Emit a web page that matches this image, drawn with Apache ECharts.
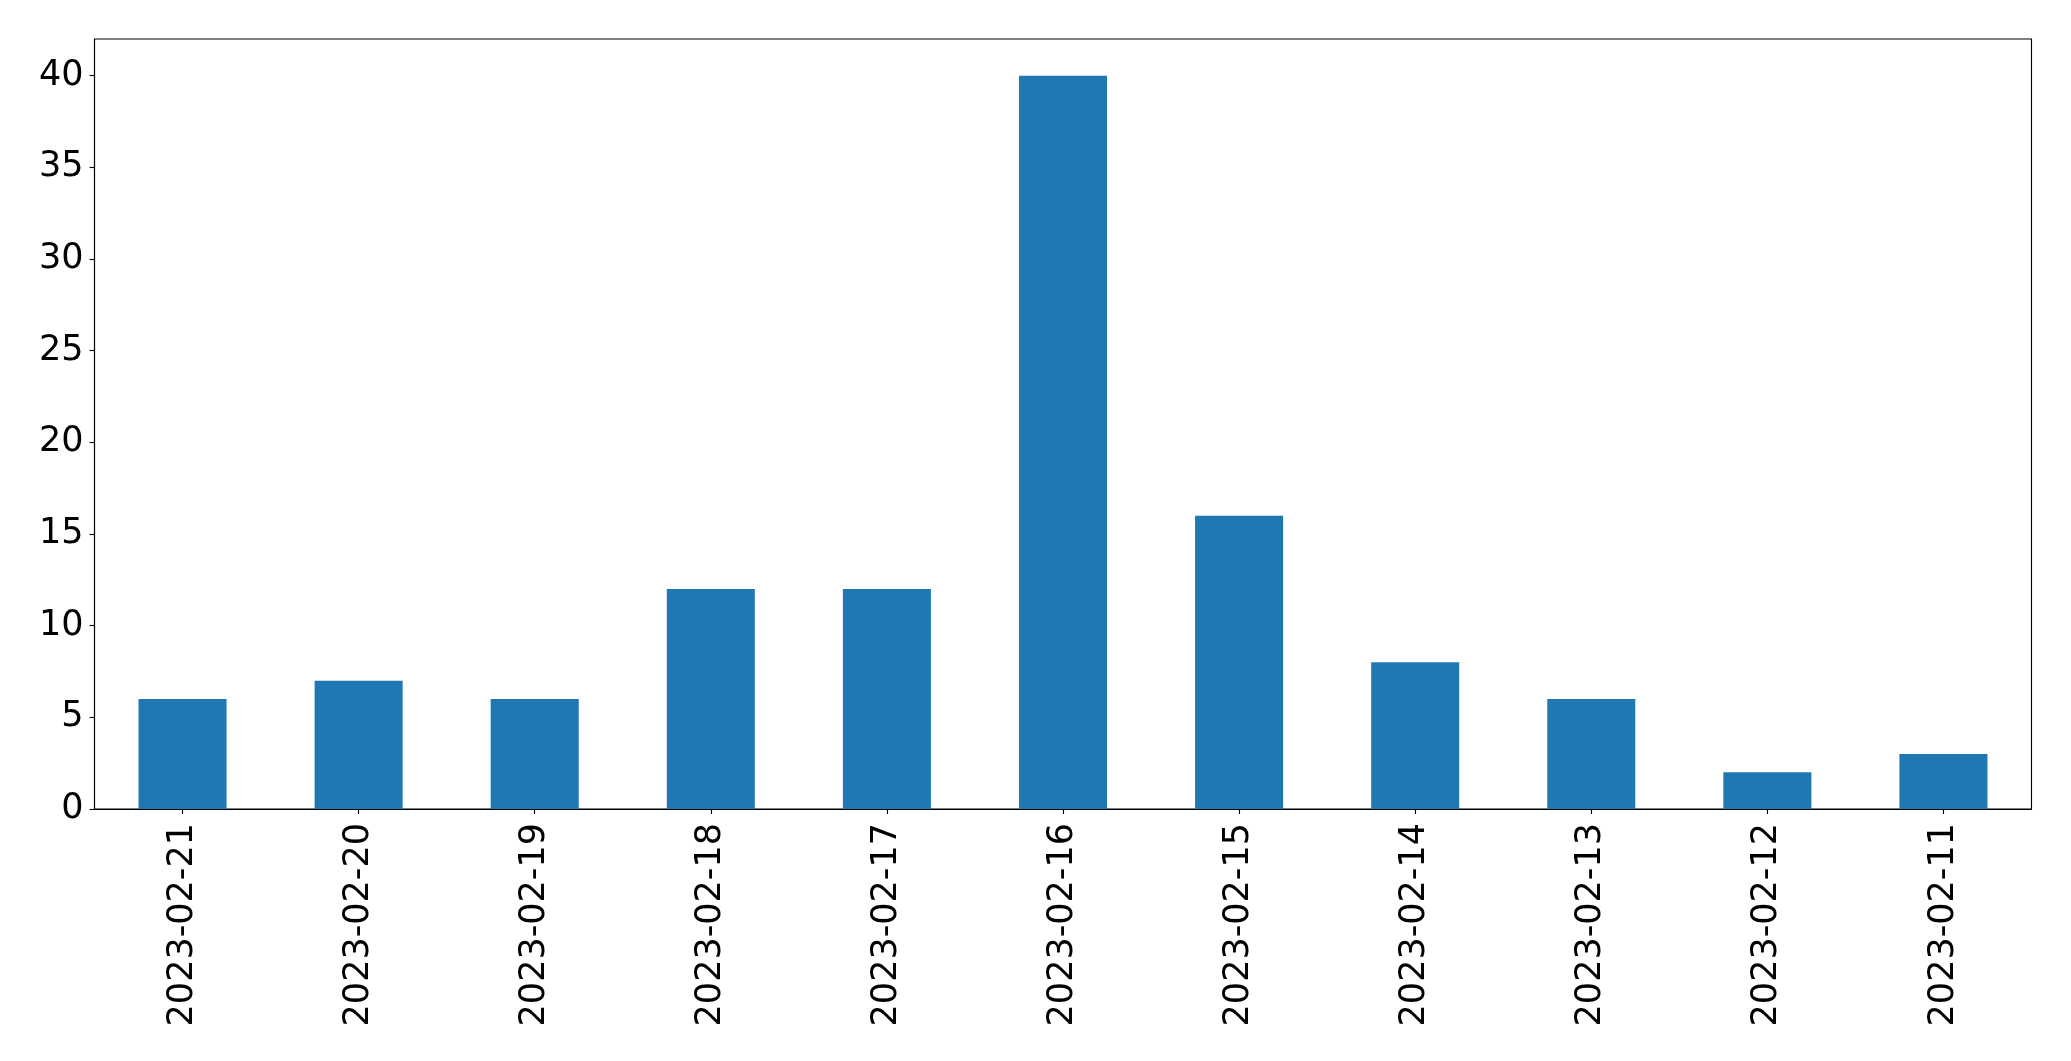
<!DOCTYPE html>
<html>
<head>
<meta charset="utf-8">
<script src="https://cdn.jsdelivr.net/npm/echarts@6/dist/echarts.min.js"></script>
<style>
html,body{margin:0;padding:0;background:#fff;}
#chart{width:2071px;height:1061px;}
</style>
</head>
<body>
<div id="chart"></div>
<script>
const categories = ["2023-02-21","2023-02-20","2023-02-19","2023-02-18","2023-02-17","2023-02-16","2023-02-15","2023-02-14","2023-02-13","2023-02-12","2023-02-11"];
const counts = [6,7,6,12,12,40,16,8,6,2,3];
const yTicks = [0,5,10,15,20,25,30,35,40];

const chart = echarts.init(document.getElementById('chart'), null, {renderer:'canvas'});
const font = '"DejaVu Sans", sans-serif';
chart.setOption({
  animation:false,
  backgroundColor:'#ffffff',
  grid:{left:94.5,right:39.5,top:39,bottom:252,show:true,borderColor:'#000',borderWidth:1.1,backgroundColor:'transparent'},
  xAxis:{
    type:'category',
    data:categories,
    boundaryGap:true,
    axisLine:{show:true,lineStyle:{color:'#000',width:1.1}},
    axisTick:{show:true,alignWithLabel:true,length:5,lineStyle:{color:'#000',width:1.1}},
    axisLabel:{rotate:90,fontSize:35,color:'#000',fontFamily:font,margin:14,interval:0},
    splitLine:{show:false}
  },
  yAxis:{
    type:'value',
    min:0,max:42,interval:5,
    axisLine:{show:true,lineStyle:{color:'#000',width:1.1}},
    axisTick:{show:true,length:5,lineStyle:{color:'#000',width:1.1},customValues:yTicks},
    axisLabel:{fontSize:35,color:'#000',fontFamily:font,margin:11,customValues:yTicks},
    splitLine:{show:false}
  },
  series:[{
    type:'bar',
    data:counts,
    barWidth:'50%',
    itemStyle:{color:'#1f77b4'}
  }]
});
</script>
</body>
</html>
